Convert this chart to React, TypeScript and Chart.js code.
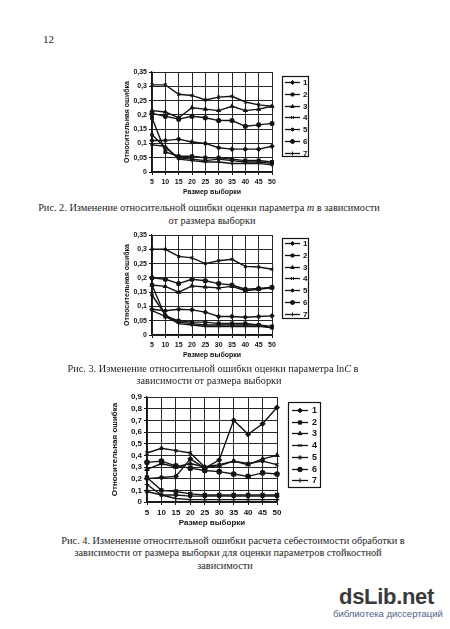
import React, { useEffect, useRef } from 'react';
import { Chart, registerables } from 'chart.js';
import { drawPoint } from 'chart.js/helpers';

Chart.register(...registerables);

// ---------- data ----------
const sampleSizes = ['5', '10', '15', '20', '25', '30', '35', '40', '45', '50'];
const seriesLabels = ['1', '2', '3', '4', '5', '6', '7'];
const seriesMarkers = ['rectRot', 'rect', 'triangle', 'crossRot', 'star', 'circle', 'cross'];

// Fig. 2 – parameter m
const fig2S1 = [0.11, 0.11, 0.115, 0.105, 0.1, 0.085, 0.08, 0.08, 0.08, 0.09];
const fig2S2 = [0.19, 0.07, 0.055, 0.055, 0.05, 0.05, 0.045, 0.04, 0.04, 0.035];
const fig2S3 = [0.215, 0.21, 0.19, 0.225, 0.22, 0.215, 0.23, 0.215, 0.22, 0.23];
const fig2S4 = [0.305, 0.305, 0.272, 0.268, 0.252, 0.262, 0.265, 0.245, 0.235, 0.23];
const fig2S5 = [0.13, 0.085, 0.05, 0.045, 0.04, 0.045, 0.04, 0.035, 0.035, 0.03];
const fig2S6 = [0.205, 0.195, 0.185, 0.195, 0.19, 0.18, 0.18, 0.16, 0.165, 0.17];
const fig2S7 = [0.095, 0.09, 0.045, 0.04, 0.035, 0.035, 0.03, 0.03, 0.03, 0.025];

// Fig. 3 – parameter lnC
const fig3S1 = [0.09, 0.085, 0.09, 0.088, 0.08, 0.065, 0.065, 0.062, 0.065, 0.067];
const fig3S2 = [0.175, 0.065, 0.05, 0.045, 0.045, 0.04, 0.04, 0.04, 0.035, 0.03];
const fig3S3 = [0.175, 0.17, 0.15, 0.172, 0.168, 0.165, 0.17, 0.155, 0.16, 0.165];
const fig3S4 = [0.3, 0.3, 0.275, 0.27, 0.25, 0.26, 0.265, 0.24, 0.238, 0.23];
const fig3S5 = [0.14, 0.07, 0.045, 0.04, 0.035, 0.035, 0.035, 0.035, 0.035, 0.025];
const fig3S6 = [0.2, 0.195, 0.18, 0.195, 0.19, 0.18, 0.175, 0.16, 0.163, 0.167];
const fig3S7 = [0.085, 0.065, 0.04, 0.035, 0.03, 0.03, 0.03, 0.03, 0.03, 0.025];

// Fig. 4 – cost error
const fig4S1 = [0.2, 0.21, 0.22, 0.37, 0.29, 0.36, 0.7, 0.58, 0.67, 0.81];
const fig4S2 = [0.21, 0.1, 0.09, 0.07, 0.06, 0.06, 0.06, 0.06, 0.06, 0.06];
const fig4S3 = [0.28, 0.33, 0.3, 0.33, 0.3, 0.31, 0.35, 0.32, 0.37, 0.4];
const fig4S4 = [0.42, 0.46, 0.44, 0.42, 0.3, 0.32, 0.35, 0.33, 0.35, 0.32];
const fig4S5 = [0.09, 0.06, 0.06, 0.05, 0.05, 0.05, 0.05, 0.05, 0.05, 0.05];
const fig4S6 = [0.34, 0.35, 0.31, 0.29, 0.27, 0.26, 0.24, 0.22, 0.25, 0.24];
const fig4S7 = [0.15, 0.06, 0.03, 0.02, 0.02, 0.02, 0.02, 0.02, 0.02, 0.02];

const fig2Data = [fig2S1, fig2S2, fig2S3, fig2S4, fig2S5, fig2S6, fig2S7];
const fig3Data = [fig3S1, fig3S2, fig3S3, fig3S4, fig3S5, fig3S6, fig3S7];
const fig4Data = [fig4S1, fig4S2, fig4S3, fig4S4, fig4S5, fig4S6, fig4S7];

const yTitle = 'Относительная ошибка';
const xTitle = 'Размер выборки';

const INK = '#141414';
const SANS = "'Liberation Sans', Arial, sans-serif";
const SERIF = "'Liberation Serif', 'Times New Roman', serif";

// ---------- boxed legend plugin ----------
const boxedLegend = {
  id: 'boxedLegend',
  afterDraw(chart: any, _args: any, o: any) {
    const ctx = chart.ctx;
    ctx.save();
    ctx.strokeStyle = INK;
    ctx.lineWidth = 1.2;
    ctx.strokeRect(o.x + 0.5, o.y + 0.5, o.w, o.h);
    chart.data.datasets.forEach((ds: any, i: number) => {
      const y = Math.round(o.itemY + i * o.step) + 0.5;
      ctx.strokeStyle = INK;
      ctx.lineWidth = 1.3;
      ctx.beginPath();
      ctx.moveTo(o.lineX0, y);
      ctx.lineTo(o.lineX1, y);
      ctx.stroke();
      ctx.fillStyle = INK;
      ctx.lineWidth = 1;
      drawPoint(ctx, { pointStyle: ds.pointStyle, radius: o.r, borderWidth: 1, rotation: 0 } as any,
        (o.lineX0 + o.lineX1) / 2, y);
      ctx.fillStyle = INK;
      ctx.font = `bold ${o.fontSize}px ${SANS}`;
      ctx.textBaseline = 'middle';
      ctx.textAlign = 'left';
      ctx.fillText(ds.label, o.textX, y);
    });
    ctx.restore();
  },
};

const fmt = (v: number) => String(Math.round(v * 100) / 100).replace('.', ',');

type FigProps = {
  left: number; top: number; width: number; height: number;
  data: number[][]; yMax: number; yStep: number;
  pad: { left: number; right: number; top: number; bottom: number };
  yWidth: number; xHeight: number; fontSize: number; r: number;
  legend: any;
};

function LineFig(p: FigProps) {
  const ref = useRef<HTMLCanvasElement>(null);
  useEffect(() => {
    if (!ref.current) return;
    const font = { family: SANS, size: p.fontSize, weight: 'bold' as const };
    const grid = { color: '#262626', lineWidth: 1, tickLength: 3, drawTicks: true, tickColor: INK };
    const chart = new Chart(ref.current, {
      type: 'line',
      data: {
        labels: sampleSizes,
        datasets: p.data.map((d, i) => ({
          label: seriesLabels[i],
          data: d,
          borderColor: INK,
          backgroundColor: INK,
          borderWidth: 1.4,
          pointStyle: seriesMarkers[i] as any,
          pointRadius: p.r,
          pointBorderWidth: 1.1,
          pointBackgroundColor: INK,
          pointBorderColor: INK,
          tension: 0,
        })),
      },
      options: {
        animation: false,
        responsive: false,
        maintainAspectRatio: false,
        devicePixelRatio: 1,
        layout: { padding: p.pad },
        plugins: {
          legend: { display: false },
          tooltip: { enabled: false },
          boxedLegend: p.legend,
        } as any,
        scales: {
          x: {
            type: 'category',
            offset: false,
            grid,
            border: { color: INK, width: 1.2 },
            ticks: { font, color: INK, padding: 3, maxRotation: 0, autoSkip: false },
            title: { display: true, text: xTitle, font, color: INK, padding: 0 },
            afterFit: (s: any) => { s.height = p.xHeight; },
          },
          y: {
            min: 0,
            max: p.yMax,
            grid,
            border: { color: INK, width: 1.2 },
            ticks: { stepSize: p.yStep, autoSkip: false, font, color: INK, padding: 2, callback: (v: any) => fmt(Number(v)) },
            title: { display: true, text: yTitle, font, color: INK, padding: 0 },
            afterFit: (s: any) => { s.width = p.yWidth; },
          },
        },
      },
      plugins: [boxedLegend],
    });
    return () => chart.destroy();
  }, []);
  return (
    <canvas
      ref={ref}
      width={p.width}
      height={p.height}
      style={{ position: 'absolute', left: p.left, top: p.top, width: p.width, height: p.height }}
    />
  );
}

function Line({ text, cx, y, size = 10.3 }: { text: React.ReactNode; cx: number; y: number; size?: number }) {
  return (
    <div
      style={{
        position: 'absolute', left: cx - 220, top: y - size * 0.6, width: 440, textAlign: 'center',
        fontFamily: SERIF, fontSize: size, lineHeight: `${size * 1.2}px`, color: '#1e1e1e', whiteSpace: 'nowrap',
      }}
    >
      {text}
    </div>
  );
}

export default function App() {
  useEffect(() => {
    document.body.style.margin = '0';
  }, []);
  return (
    <div style={{ position: 'absolute', left: 0, top: 0, width: 450, height: 629, background: '#fff', overflow: 'hidden' }}>
      <div style={{ position: 'absolute', left: 43, top: 33, fontFamily: SERIF, fontSize: 11, color: '#222' }}>12</div>

      <LineFig
        left={100} top={62} width={220} height={140}
        data={fig2Data} yMax={0.35} yStep={0.05}
        pad={{ left: 23, right: 48, top: 10, bottom: 6 }}
        yWidth={29} xHeight={24} fontSize={7} r={2}
        legend={{ x: 182, y: 14, w: 26, h: 80, itemY: 20, step: 11.8, lineX0: 185, lineX1: 200, textX: 203, r: 2, fontSize: 8 }}
      />
      <Line cx={209} y={208} text={<>Рис. 2. Изменение относительной ошибки оценки параметра <i>m</i> в зависимости</>} />
      <Line cx={212} y={221} text="от размера выборки" />

      <LineFig
        left={100} top={225} width={220} height={140}
        data={fig3Data} yMax={0.35} yStep={0.05}
        pad={{ left: 23, right: 48, top: 10, bottom: 6 }}
        yWidth={29} xHeight={24} fontSize={7} r={2}
        legend={{ x: 182, y: 13, w: 26, h: 80, itemY: 18, step: 11.8, lineX0: 185, lineX1: 200, textX: 203, r: 2, fontSize: 8 }}
      />
      <Line cx={213} y={369} text={<>Рис. 3. Изменение относительной ошибки оценки параметра ln<i>C</i> в</>} />
      <Line cx={209} y={381} text="зависимости от размера выборки" />

      <LineFig
        left={100} top={385} width={240} height={150}
        data={fig4Data} yMax={0.9} yStep={0.1}
        pad={{ left: 10, right: 63, top: 12, bottom: 7 }}
        yWidth={37} xHeight={26} fontSize={8} r={2.3}
        legend={{ x: 188, y: 17, w: 32, h: 85, itemY: 25, step: 11.7, lineX0: 192, lineX1: 208, textX: 212, r: 2.3, fontSize: 9 }}
      />
      <Line cx={233} y={541} text="Рис. 4. Изменение относительной ошибки расчета себестоимости обработки в" />
      <Line cx={228} y={553} text="зависимости от размера выборки для оценки параметров стойкостной" />
      <Line cx={225} y={566} text="зависимости" />

      <div style={{ position: 'absolute', left: 339, top: 584, fontFamily: SANS, fontWeight: 'bold', fontSize: 22, color: '#3a3a3a', letterSpacing: -0.3 }}>
        dsLib.net
      </div>
      <div style={{ position: 'absolute', left: 333, top: 608, fontFamily: SANS, fontSize: 9.5, color: '#4f6287' }}>
        библиотека диссертаций
      </div>
    </div>
  );
}
